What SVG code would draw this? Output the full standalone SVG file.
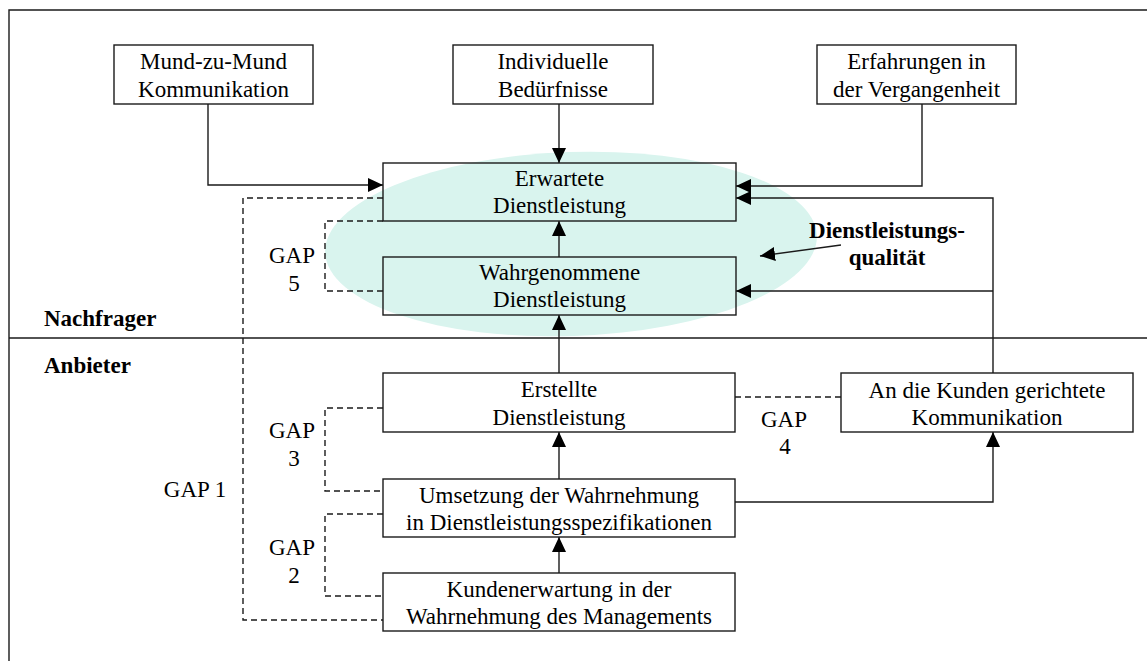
<svg xmlns="http://www.w3.org/2000/svg" width="1147" height="661" viewBox="0 0 1147 661">
<style>
text{font-family:"Liberation Serif","Times New Roman",serif;font-size:23px;fill:#000;text-anchor:middle}
.b{font-weight:bold}
.l{text-anchor:start}
.box{fill:none;stroke:#1a1a1a;stroke-width:1.4}
.ln{fill:none;stroke:#1a1a1a;stroke-width:1.4}
.ar{fill:none;stroke:#1a1a1a;stroke-width:1.4;marker-end:url(#ah)}
.da{fill:none;stroke:#1a1a1a;stroke-width:1.4;stroke-dasharray:6 4}
</style>
<defs>
<marker id="ah" markerUnits="userSpaceOnUse" markerWidth="17" markerHeight="15" refX="15" refY="7" orient="auto">
<path d="M0,0 L15,7 L0,14 z" fill="#000"/>
</marker>
</defs>
<rect width="1147" height="661" fill="#fff"/>
<g id="frame">
<path class="ln" d="M9,661 V10 H1147"/>
<path class="ln" d="M9,338 H1147"/>
</g>
<g id="quality-area">
<ellipse cx="571" cy="244" rx="246" ry="92" fill="#d9f4ee" transform="rotate(-2 571 244)"/>
</g>
<g id="labels">
<text class="b l" x="44" y="326">Nachfrager</text>
<text class="b l" x="44" y="373">Anbieter</text>
<text class="b" x="887" y="238">Dienstleistungs-</text>
<text class="b" x="887" y="265">qualität</text>
<text x="292" y="263">GAP</text><text x="294" y="291">5</text>
<text x="195" y="497">GAP 1</text>
<text x="292" y="438">GAP</text><text x="294" y="466">3</text>
<text x="292" y="555">GAP</text><text x="294" y="583">2</text>
<text x="784" y="427">GAP</text><text x="785" y="454">4</text>
</g>
<g id="connectors">
<path class="ar" d="M208,104 V185 H383"/>
<path class="ar" d="M559,104 V163"/>
<path class="ar" d="M922,104 V186 H736"/>
<path class="ar" d="M993,373 V198 H736"/>
<path class="ar" d="M993,291 H736"/>
<path class="ar" d="M559,257 V221"/>
<path class="ar" d="M559,373 V315"/>
<path class="ar" d="M559,479 V432"/>
<path class="ar" d="M559,573 V537"/>
<path class="ar" d="M735,502 H993 V432"/>
<path class="ar" d="M841,245 L760,256"/>
<path class="da" d="M383,198 H243 V620 H383"/>
<path class="da" d="M383,221 H325 V291 H383"/>
<path class="da" d="M383,408 H325 V491 H383"/>
<path class="da" d="M383,514 H325 V596 H383"/>
<path class="da" d="M735,397 H841"/>
</g>
<g id="mund">
<rect class="box" x="114" y="45" width="199" height="59"/>
<text x="213.5" y="69">Mund-zu-Mund</text><text x="213.5" y="97">Kommunikation</text>
</g>
<g id="individuelle">
<rect class="box" x="453" y="45" width="200" height="59"/>
<text x="553" y="69">Individuelle</text><text x="553" y="97">Bedürfnisse</text>
</g>
<g id="erfahrungen">
<rect class="box" x="817" y="45" width="199" height="59"/>
<text x="916.5" y="69">Erfahrungen in</text><text x="916.5" y="97">der Vergangenheit</text>
</g>
<g id="erwartete">
<rect class="box" x="383" y="163" width="353" height="58"/>
<text x="559.5" y="186">Erwartete</text><text x="559.5" y="213">Dienstleistung</text>
</g>
<g id="wahrgenommene">
<rect class="box" x="383" y="257" width="353" height="58"/>
<text x="559.5" y="280">Wahrgenommene</text><text x="559.5" y="307">Dienstleistung</text>
</g>
<g id="erstellte">
<rect class="box" x="383" y="373" width="352" height="59"/>
<text x="559" y="397">Erstellte</text><text x="559" y="425">Dienstleistung</text>
</g>
<g id="umsetzung">
<rect class="box" x="383" y="479" width="352" height="58"/>
<text x="559" y="503">Umsetzung der Wahrnehmung</text><text x="559" y="530">in Dienstleistungsspezifikationen</text>
</g>
<g id="kundenerwartung">
<rect class="box" x="383" y="573" width="352" height="58"/>
<text x="559" y="597">Kundenerwartung in der</text><text x="559" y="624">Wahrnehmung des Managements</text>
</g>
<g id="kommunikation">
<rect class="box" x="841" y="373" width="292" height="59"/>
<text x="987" y="398">An die Kunden gerichtete</text><text x="987" y="425">Kommunikation</text>
</g>
</svg>
